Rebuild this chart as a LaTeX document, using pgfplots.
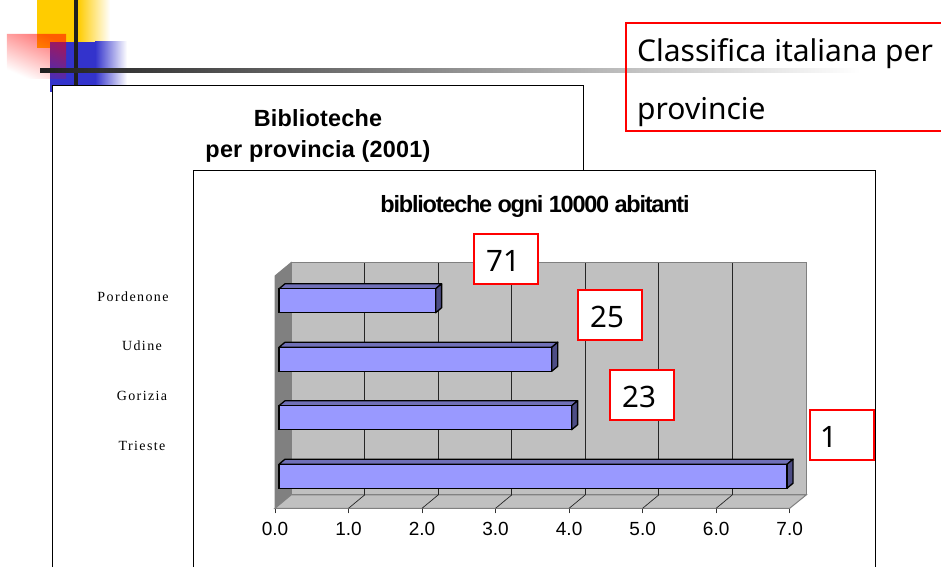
\documentclass[border=0pt]{standalone}
\usepackage{fontspec}
\setmainfont{Liberation Sans}
\newfontfamily\serifspaced[LetterSpace=10]{Liberation Serif}
\newfontfamily\titletight[LetterSpace=-5.2]{Liberation Sans Bold}
\newfontfamily\titlewide[LetterSpace=1]{Liberation Sans Bold}
\newfontfamily\tahomalike{Noto Sans}
\usepackage{pgfplots}
\pgfplotsset{compat=1.18}
\usetikzlibrary{fadings}
\definecolor{wallback}{HTML}{C0C0C0}
\definecolor{wallside}{HTML}{808080}
\definecolor{barfront}{HTML}{9999FF}
\definecolor{bartop}{HTML}{7070B8}
\definecolor{barside}{HTML}{4D4D85}
\definecolor{slideyellow}{HTML}{FFCC00}
\definecolor{slideblue}{HTML}{3333CC}
\tikzfading[name=pinkfade, left color=transparent!100, right color=transparent!45]
\tikzset{
  redbox/.style={draw=red, line width=2pt, fill=white, minimum width=64pt, minimum height=50pt, inner sep=0pt},
  ranknum/.style={anchor=base west, inner sep=0pt, font=\fontsize{29.5}{30}\tahomalike},
}
\begin{document}
\begin{tikzpicture}[x=1pt,y=1pt]
\useasboundingbox (0,0) rectangle (941,567);
% slide decoration
\fill[slideyellow] (37,567) rectangle (78,519);
\shade[left color=slideyellow, right color=white, draw=none] (78,567) rectangle (110,519);
\fill[slideblue] (50,525) rectangle (95,475);
\shade[left color=slideblue, right color=white, draw=none] (95,525) rectangle (127,475);
\fill[red, path fading=pinkfade, fading angle=60] (7,533) rectangle (66,488);
\fill[black!88] (74,567) rectangle (78,481);
\shade[left color=black!88, right color=white, draw=none] (40,498) rectangle (860,494);
% back panel
\draw[black, line width=1pt, fill=white] (52.5,0) -- (52.5,481.5) -- (583,481.5) -- (583,0);
\node[font=\fontsize{23.4}{28}\titlewide] at (318,449) {Biblioteche};
\node[font=\fontsize{23.4}{28}\titlewide] at (318,416) {per provincia (2001)};
% front panel
\draw[black, line width=1pt, fill=white] (193,0) -- (193,396) -- (875,396) -- (875,0);
\node[font=\fontsize{23.5}{28}\titletight] at (535,361) {biblioteche ogni 10000 abitanti};

\begin{axis}[
    at={(275pt,58.7pt)},
    anchor=south west,
    scale only axis,
    width=514.7pt,
    height=245.6pt,
    xmin=0, xmax=7,
    ymin=-0.549, ymax=3.651,
    clip=false,
    axis x line=bottom,
    axis y line=left,
    axis line style={-},
    y axis line style={draw=none},
    x axis line style={draw=black!65, line width=1.2pt},
    xtick={0,1,2,3,4,5,6,7},
    xticklabel style={
        font=\fontsize{19}{19}\selectfont,
        /pgf/number format/fixed,
        /pgf/number format/fixed zerofill,
        /pgf/number format/precision=1,
        /pgf/number format/assume math mode=true,
        yshift=-5pt},
    ytick={3.065,2.227,1.372,0.517},
    yticklabels={Pordenone\hspace*{18pt},Udine,Gorizia,Trieste},
    yticklabel style={font=\fontsize{14}{14}\serifspaced, anchor=center, xshift=-128pt},
    ytick style={draw=none},
    xtick style={draw=black!80, line width=0.8pt},
    tick align=outside,
    major tick length=5pt,
]
% walls and floor
\addplot[fill=wallback, draw=wallside, line width=1pt] coordinates {(0.218,-0.3215) (7.224,-0.3215) (7.224,3.651) (0.218,3.651)} --cycle;
\addplot[fill=wallside, draw=wallside, line width=1pt] coordinates {(0,-0.549) (0.218,-0.3215) (0.218,3.651) (0,3.424)} --cycle;
\addplot[fill=wallback, draw=wallside, line width=1pt] coordinates {(0,-0.549) (7,-0.549) (7.224,-0.3215) (0.218,-0.3215)} --cycle;
% grid on the back wall and on the floor
\addplot[black!85, line width=0.7pt, unbounded coords=jump] coordinates {
    (1.218,-0.3215) (1.218,3.651) (nan,nan)
    (2.218,-0.3215) (2.218,3.651) (nan,nan)
    (3.218,-0.3215) (3.218,3.651) (nan,nan)
    (4.218,-0.3215) (4.218,3.651) (nan,nan)
    (5.218,-0.3215) (5.218,3.651) (nan,nan)
    (6.218,-0.3215) (6.218,3.651)
};
\addplot[black!85, line width=0.7pt, unbounded coords=jump] coordinates {
    (1,-0.549) (1.218,-0.3215) (nan,nan)
    (2,-0.549) (2.218,-0.3215) (nan,nan)
    (3,-0.549) (3.218,-0.3215) (nan,nan)
    (4,-0.549) (4.218,-0.3215) (nan,nan)
    (5,-0.549) (5.218,-0.3215) (nan,nan)
    (6,-0.549) (6.218,-0.3215)
};
% bars: top and side faces, then the front faces
\pgfplotsset{
    bartopface/.style={fill=bartop, draw=black, line width=1.3pt, line join=round, xshift=4pt},
    barsideface/.style={fill=barside, draw=black, line width=1.3pt, line join=round, xshift=4pt},
}
\addplot[bartopface] coordinates {(0,3.205) (2.13,3.205) (2.2116,3.2905) (0.0816,3.2905)} --cycle;
\addplot[barsideface] coordinates {(2.13,3.205) (2.13,2.795) (2.2116,2.8805) (2.2116,3.2905)} --cycle;
\addplot[bartopface] coordinates {(0,2.205) (3.71,2.205) (3.7916,2.2905) (0.0816,2.2905)} --cycle;
\addplot[barsideface] coordinates {(3.71,2.205) (3.71,1.795) (3.7916,1.8805) (3.7916,2.2905)} --cycle;
\addplot[bartopface] coordinates {(0,1.205) (3.98,1.205) (4.0616,1.2905) (0.0816,1.2905)} --cycle;
\addplot[barsideface] coordinates {(3.98,1.205) (3.98,0.795) (4.0616,0.8805) (4.0616,1.2905)} --cycle;
\addplot[bartopface] coordinates {(0,0.205) (6.91,0.205) (6.9916,0.2905) (0.0816,0.2905)} --cycle;
\addplot[barsideface] coordinates {(6.91,0.205) (6.91,-0.205) (6.9916,-0.1195) (6.9916,0.2905)} --cycle;
\addplot[xbar, bar width=24pt, bar shift=0pt, fill=barfront, draw=black, line width=1.3pt, xshift=4pt] coordinates {
    (2.13,3)
    (3.71,2)
    (3.98,1)
    (6.91,0)
};
\end{axis}

% rank boxes
\node[redbox] at (506,307.5) {};
\node[ranknum] at (486,295) {71};
\node[redbox] at (610,251.5) {};
\node[ranknum] at (590,239) {25};
\node[redbox] at (642,171.5) {};
\node[ranknum] at (622,159) {23};
\node[redbox] at (842,131.5) {};
\node[ranknum] at (820,119) {1};
% caption box, runs off the right edge
\draw[red, line width=2pt] (941,544) -- (625.5,544) -- (625.5,436) -- (941,436);
\node[anchor=base west, inner sep=0pt, font=\fontsize{30}{30}\tahomalike] at (637,505.5) {Classifica italiana per};
\node[anchor=base west, inner sep=0pt, font=\fontsize{30}{30}\tahomalike] at (637,447.5) {provincie};
\end{tikzpicture}
\end{document}
